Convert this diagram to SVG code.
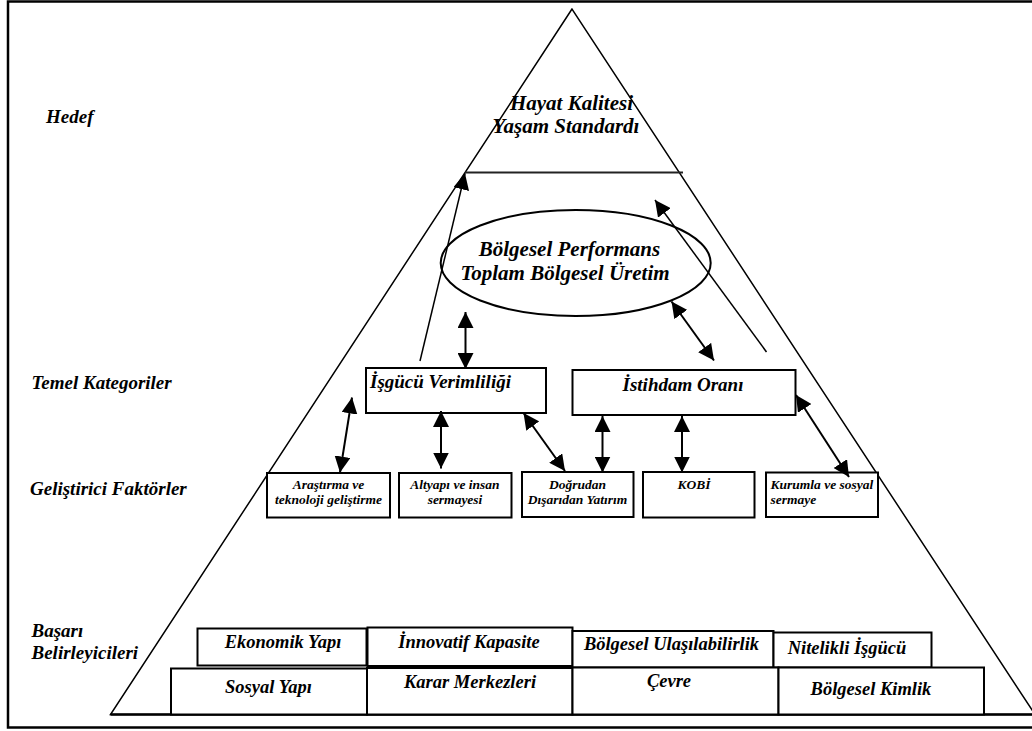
<svg xmlns="http://www.w3.org/2000/svg" width="1032" height="731" viewBox="0 0 1032 731">
<defs>
<style>
text{font-family:"Liberation Serif","Times New Roman",serif;font-weight:bold;font-style:italic;fill:#000}
.lbl{font-size:19px}
.top{font-size:21px;text-anchor:middle}
.mid{font-size:19px}
.fac{font-size:13.5px;text-anchor:middle}
.facl{font-size:13.5px;text-anchor:start}
.bot{font-size:18.5px;text-anchor:middle}
.box{fill:#fff;stroke:#000;stroke-width:2}
.dbl{fill:none;stroke:#000;stroke-width:2;marker-start:url(#ah);marker-end:url(#ah)}
.one{fill:none;stroke:#000;stroke-width:1.5;marker-end:url(#ah)}
</style>
<marker id="ah" viewBox="0 0 16 16" refX="16" refY="8" markerWidth="16" markerHeight="16" markerUnits="userSpaceOnUse" orient="auto-start-reverse">
<path d="M0,0 L16,8 L0,16 z" fill="#000"/>
</marker>
</defs>
<rect x="0" y="0" width="1032" height="731" fill="#fff"/>
<rect x="8" y="1.5" width="1040" height="726" fill="none" stroke="#000" stroke-width="2.5"/>

<g id="pyramid">
<polygon points="572,9 110.5,714.5 1035,714.5" fill="none" stroke="#000" stroke-width="1.5"/>
<line x1="110.5" y1="714.5" x2="1032" y2="714.5" stroke="#000" stroke-width="2.5"/>
<line x1="465" y1="172.5" x2="683" y2="172.5" stroke="#222" stroke-width="2.2"/>
</g>

<g id="side-labels">
<text class="lbl" x="46" y="123">Hedef</text>
<text class="lbl" x="31.5" y="389">Temel Kategoriler</text>
<text class="lbl" x="30" y="495">Geliştirici Faktörler</text>
<text class="lbl" x="31.5" y="637">Başarı</text>
<text class="lbl" x="31.5" y="659">Belirleyicileri</text>
</g>

<g id="hedef">
<text class="top" x="571.5" y="110">Hayat Kalitesi</text>
<text class="top" x="566" y="133">Yaşam Standardı</text>
</g>

<g id="performans">
<ellipse cx="575.7" cy="263" rx="135" ry="53" fill="none" stroke="#000" stroke-width="2"/>
<text class="top" x="569.5" y="255.5">Bölgesel Performans</text>
<text class="top" x="565" y="280">Toplam Bölgesel Üretim</text>
</g>

<g id="isgucu-verimliligi">
<rect class="box" x="366" y="368" width="180" height="45"/>
<text class="mid" x="370" y="388">İşgücü Verimliliği</text>
</g>
<g id="istihdam-orani">
<rect class="box" x="572.5" y="370" width="223" height="45"/>
<text class="mid" x="683" y="391" text-anchor="middle">İstihdam Oranı</text>
</g>

<g id="arastirma">
<rect class="box" x="267" y="473" width="123" height="44.5"/>
<text class="fac" x="328.5" y="489">Araştırma ve</text>
<text class="fac" x="328.5" y="503.5">teknoloji geliştirme</text>
</g>
<g id="altyapi">
<rect class="box" x="399" y="473" width="112.5" height="44.5"/>
<text class="fac" x="455" y="489">Altyapı ve insan</text>
<text class="fac" x="455" y="503.5">sermayesi</text>
</g>
<g id="dogrudan">
<rect class="box" x="522" y="472" width="111.5" height="45"/>
<text class="fac" x="577.5" y="489">Doğrudan</text>
<text class="fac" x="577.5" y="503.5">Dışarıdan Yatırım</text>
</g>
<g id="kobi">
<rect class="box" x="643" y="472" width="111.5" height="45.5"/>
<text class="fac" x="694" y="488.5">KOBİ</text>
</g>
<g id="kurumla">
<rect class="box" x="766" y="472.5" width="112" height="44.5"/>
<text class="facl" x="770.5" y="489">Kurumla ve sosyal</text>
<text class="facl" x="770.5" y="503.5">sermaye</text>
</g>

<g id="ekonomik-yapi">
<rect class="box" x="197.5" y="628.5" width="169" height="37"/>
<text class="bot" x="283" y="648">Ekonomik Yapı</text>
</g>
<g id="innovatif-kapasite">
<rect class="box" x="367.5" y="627.5" width="205" height="38.5"/>
<text class="bot" x="469" y="648">İnnovatif Kapasite</text>
</g>
<g id="bolgesel-ulasilabilirlik">
<rect class="box" x="572.5" y="631" width="201" height="36.5"/>
<text class="bot" x="671.5" y="649.5">Bölgesel Ulaşılabilirlik</text>
</g>
<g id="nitelikli-isgucu">
<rect class="box" x="773.5" y="632.5" width="158" height="35"/>
<text class="bot" x="847" y="654">Nitelikli İşgücü</text>
</g>
<g id="sosyal-yapi">
<rect class="box" x="171" y="668.5" width="196" height="46"/>
<text class="bot" x="268.5" y="693">Sosyal Yapı</text>
</g>
<g id="karar-merkezleri">
<rect class="box" x="367" y="668" width="205.5" height="46.5"/>
<text class="bot" x="470" y="688">Karar Merkezleri</text>
</g>
<g id="cevre">
<rect class="box" x="572.5" y="667.5" width="206" height="47"/>
<text class="bot" x="669" y="687">Çevre</text>
</g>
<g id="bolgesel-kimlik">
<rect class="box" x="778.5" y="667.5" width="205.5" height="47"/>
<text class="bot" x="871" y="695">Bölgesel Kimlik</text>
</g>

<g id="connectors">
<line class="one" x1="420" y1="361" x2="465" y2="173.5"/>
<line class="one" x1="766.5" y1="352" x2="655" y2="200"/>
<line class="dbl" x1="465.5" y1="312" x2="465.5" y2="369"/>
<line class="dbl" x1="671.5" y1="301.5" x2="714" y2="360.5"/>
<line class="dbl" x1="352" y1="397.5" x2="340" y2="472.5"/>
<line class="dbl" x1="441" y1="411" x2="441" y2="468.5"/>
<line class="dbl" x1="523.5" y1="413" x2="565" y2="471"/>
<line class="dbl" x1="602.5" y1="416" x2="602.5" y2="472.5"/>
<line class="dbl" x1="682" y1="416" x2="682" y2="472.5"/>
<line class="dbl" x1="796" y1="395" x2="849" y2="477"/>
</g>
</svg>
